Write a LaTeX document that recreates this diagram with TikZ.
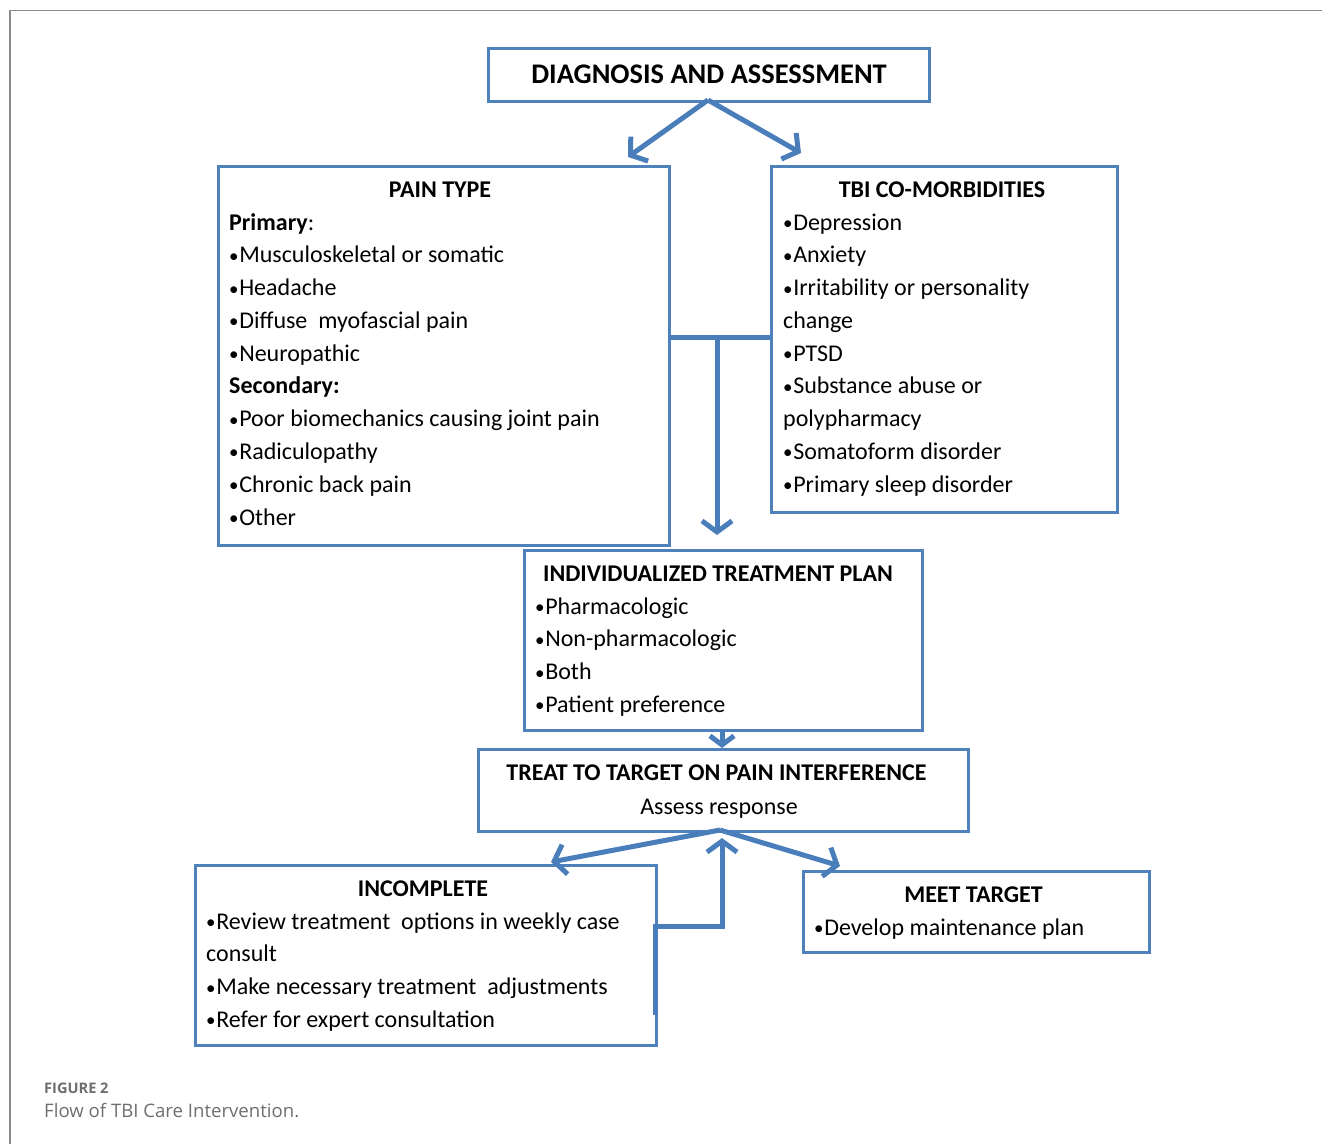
\documentclass[tikz,border=0pt]{standalone}
\usepackage{fontspec}
\setmainfont{Carlito}
\newfontfamily\capfont{Open Sans}
\usetikzlibrary{arrows.meta}
\definecolor{boxblue}{HTML}{4F81BD}
\definecolor{lineblue}{HTML}{4A7EBB}
\definecolor{capgray}{HTML}{6E6E6E}
\definecolor{framegray}{HTML}{8C8C8C}
\newcommand\bul{{\fontsize{19}{20}\selectfont\raisebox{0.5pt}{•}}\kern0.6pt}
\tikzset{
  box/.style={draw=boxblue, line width=3pt, anchor=north west, inner sep=0pt, minimum width=#1},
  conn/.style={draw=lineblue, line width=5pt},
  arr/.style={conn, -{Straight Barb[length=11pt,width=30pt,line width=5pt]}},
  txt/.style={inner sep=0pt, font=\fontsize{24}{28}\selectfont},
  head/.style={txt, font=\fontsize{24}{28}\selectfont\bfseries, anchor=base},
}
\begin{document}
\begin{tikzpicture}[x=1pt,y=-1pt]
\useasboundingbox (0,0) rectangle (1322,1144);
% frame
\draw[framegray, line width=1.3pt] (10,1144) -- (10,10.5) -- (1322,10.5);

% boxes
\node[box=441pt, minimum height=53pt] (diag) at (486.5,46.5) {};
\node[box=451pt, minimum height=379pt] (pain) at (216.5,164.5) {};
\node[box=346pt, minimum height=346pt] (tbi) at (769.5,164.5) {};
\node[box=398pt, minimum height=180pt] (plan) at (522.5,548.5) {};
\node[box=490pt, minimum height=82pt] (treat) at (476.5,747.5) {};
\node[box=461pt, minimum height=180pt] (inc) at (193.5,863.5) {};
\node[box=346pt, minimum height=81pt] (meet) at (801.5,869.5) {};

% diagnosis
\node[head, font=\fontsize{28.4}{32}\selectfont\bfseries] (diagT) at (709,83) {DIAGNOSIS AND ASSESSMENT};

% pain type
\node[head] (painT) at (440,197) {PAIN TYPE};
\foreach \t [count=\i] in {{\textbf{Primary}:},{\bul Musculoskeletal or somatic},{\bul Headache},{\bul Diffuse\ \ myofascial pain},{\bul Neuropathic},{\textbf{Secondary:}},{\bul Poor biomechanics causing joint pain},{\bul Radiculopathy},{\bul Chronic back pain},{\bul Other}}
  \node[txt, anchor=base west] (pain-\i) at (229,{230+32.78*(\i-1)}) {\t};

% tbi
\node[head] (tbiT) at (942,197) {TBI CO-MORBIDITIES};
\foreach \t [count=\i] in {{\bul Depression},{\bul Anxiety},{\bul Irritability or personality},{change},{\bul PTSD},{\bul Substance abuse or},{polypharmacy},{\bul Somatoform disorder},{\bul Primary sleep disorder}}
  \node[txt, anchor=base west] (tbi-\i) at (783,{230+32.78*(\i-1)}) {\t};

% plan
\node[head] (planT) at (718,581) {INDIVIDUALIZED TREATMENT PLAN};
\foreach \t [count=\i] in {{\bul Pharmacologic},{\bul Non-pharmacologic},{\bul Both},{\bul Patient preference}}
  \node[txt, anchor=base west] (plan-\i) at (535,{614+32.78*(\i-1)}) {\t};

% treat
\node[head] (treatT) at (716.5,780) {TREAT TO TARGET ON PAIN INTERFERENCE};
\node[txt, anchor=base] (treatS) at (719,814) {Assess response};

% incomplete
\node[head] (incT) at (423,896) {INCOMPLETE};
\foreach \t [count=\i] in {{\bul Review treatment\ \ options in weekly case},{consult},{\bul Make necessary treatment\ \ adjustments},{\bul Refer for expert consultation}}
  \node[txt, anchor=base west] (inc-\i) at (206,{929+32.78*(\i-1)}) {\t};

% meet
\node[head] (meetT) at (973.5,902) {MEET TARGET};
\node[txt, anchor=base west] (meet-1) at (814,935) {\bul Develop maintenance plan};

% caption
\node[inner sep=0pt, anchor=base west, text=capgray, font=\capfont\fontsize{14.6}{17}\selectfont\bfseries] (figlab) at (44,1093) {FIGURE 2};
\node[inner sep=0pt, anchor=base west, text=capgray, font=\capfont\fontsize{18.6}{22}\selectfont] (figcap) at (44,1117) {Flow of TBI Care Intervention.};

% connectors
\coordinate (dsrc) at (708,100);
\coordinate (painTip) at (628,157);
\coordinate (tbiTip) at (801,153);
\draw[arr] (dsrc) -- (painTip);
\draw[arr] (dsrc) -- (tbiTip);

\coordinate (jl) at (668,337);
\coordinate (jr) at (770,337);
\coordinate (jm) at (717,337);
\coordinate (planTip) at (717,535);
\draw[conn] (jl) -- (jr);
\draw[arr] (jm) -- (planTip);

\coordinate (planOut) at (722,729);
\coordinate (treatIn) at (722,748);
\draw[conn, -{Straight Barb[length=9pt,width=24pt,line width=5pt]}] (planOut) -- (treatIn);

\coordinate (tsrc) at (720,830);
\coordinate (incTip) at (551,862);
\coordinate (meetTip) at (840,866);
\draw[arr] (tsrc) -- (incTip);
\draw[arr] (tsrc) -- (meetTip);

\coordinate (incOut) at (655,1015);
\coordinate (retTip) at (722,838);
\draw[arr] (incOut) -- (655,926) -- (722,926) -- (retTip);
\end{tikzpicture}
\end{document}
